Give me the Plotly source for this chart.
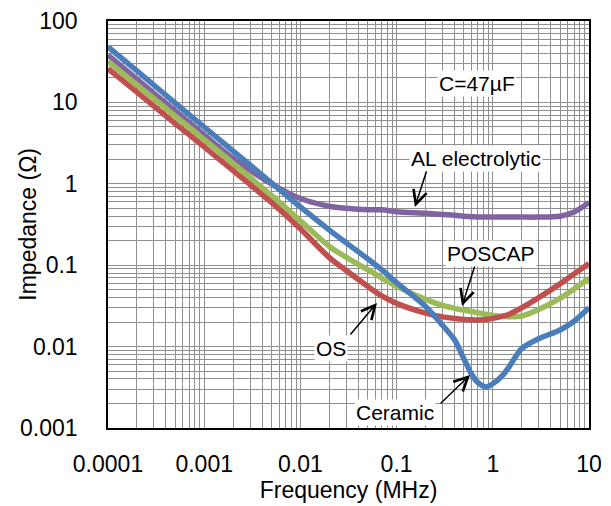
import numpy as np
import plotly.graph_objects as go

# ---- data ----
freq_mhz = [1e-4, 2e-4, 5e-4, 1e-3, 2e-3, 5e-3, 1e-2, 2e-2, 3e-2, 5e-2, 7e-2,
            0.1, 0.2, 0.3, 0.4, 0.5, 0.6, 0.7, 0.85, 1, 1.3, 1.5, 2, 3, 5, 7, 10]

al_electrolytic = [38, 19.3, 7.85, 3.98, 2.05, 1.0, 0.66, 0.53, 0.50, 0.48, 0.48,
                   0.455, 0.435, 0.42, 0.41, 0.40, 0.395, 0.39, 0.39, 0.39, 0.39, 0.39,
                   0.39, 0.39, 0.40, 0.45, 0.59]
poscap = [32, 16.4, 6.8, 3.5, 1.78, 0.72, 0.35, 0.17, 0.125, 0.088, 0.070,
          0.055, 0.038, 0.032, 0.0295, 0.028, 0.027, 0.026, 0.025, 0.0242, 0.0235, 0.0233,
          0.0238, 0.0286, 0.039, 0.051, 0.069]
os_cap = [26, 13.4, 5.5, 2.85, 1.45, 0.59, 0.28, 0.124, 0.086, 0.055, 0.042,
          0.034, 0.0258, 0.0232, 0.0222, 0.0216, 0.0213, 0.0212, 0.0215, 0.0222, 0.0238, 0.0252,
          0.030, 0.040, 0.059, 0.078, 0.105]
ceramic = [48, 24.4, 9.8, 4.97, 2.52, 1.03, 0.52, 0.27, 0.188, 0.120, 0.088,
           0.061, 0.031, 0.0183, 0.0121, 0.0071, 0.0046, 0.0036, 0.0032, 0.0035, 0.0046, 0.0058,
           0.0095, 0.0125, 0.0160, 0.0205, 0.030]

x_tick_vals = [1e-4, 1e-3, 1e-2, 1e-1, 1, 10]
x_tick_text = ["0.0001", "0.001", "0.01", "0.1", "1", "10"]
y_tick_vals = [1e-3, 1e-2, 1e-1, 1, 10, 100]
y_tick_text = ["0.001", "0.01", "0.1", "1", "10", "100"]

# labels: text, text position (freq, impedance), arrow tip (freq, impedance), arrow tail offset px
labels = [
    ("AL electrolytic", 0.668, 2.02, 0.155, 0.52, 12, -37),
    ("POSCAP", 0.957, 0.141, 0.479, 0.0316, 13, -41),
    ("OS", 0.0208, 0.0096, 0.0625, 0.0344, -27, 32),
    ("Ceramic", 0.0962, 0.00153, 0.58, 0.00448, -30, 29),
]
cap_note = ("C=47µF", 0.686, 17.3)

FONT = "Liberation Sans, Arial, sans-serif"

series = [
    ("AL electrolytic", al_electrolytic, "#8064A2"),
    ("POSCAP", poscap, "#9BBB59"),
    ("OS", os_cap, "#C0504D"),
    ("Ceramic", ceramic, "#4A7EBB"),
]

fig = go.Figure()
for name, vals, col in series:
    fig.add_trace(go.Scatter(x=freq_mhz, y=vals, mode="lines", name=name,
                             line=dict(color=col, width=5.5, shape="spline", smoothing=0.8)))

def minor_vals(decades):
    out = []
    for d in decades:
        for m in range(2, 10):
            out.append(m * 10.0 ** d)
    return out

grid_col = "#8f8f8f"
fig.update_xaxes(type="log", range=[-4, 1], tickvals=x_tick_vals, ticktext=x_tick_text,
                 showgrid=True, gridcolor=grid_col, gridwidth=1.2,
                 minor=dict(tickvals=minor_vals(range(-4, 1)), showgrid=True,
                            gridcolor=grid_col, gridwidth=1.2, ticks=""),
                 showline=True, linecolor="black", linewidth=1.5, mirror=True,
                 ticks="", ticklabelstandoff=15, automargin=False,
                 tickfont=dict(family=FONT, size=23, color="black"),
                 title=dict(text="Frequency (MHz)", standoff=2,
                            font=dict(family=FONT, size=23, color="black")),
                 zeroline=False)
fig.update_yaxes(type="log", range=[-3, 2], tickvals=y_tick_vals, ticktext=y_tick_text,
                 showgrid=True, gridcolor=grid_col, gridwidth=1.2,
                 minor=dict(tickvals=minor_vals(range(-3, 2)), showgrid=True,
                            gridcolor=grid_col, gridwidth=1.2, ticks=""),
                 showline=True, linecolor="black", linewidth=1.5, mirror=True,
                 ticks="", ticklabelstandoff=24, automargin=False,
                 tickfont=dict(family=FONT, size=23, color="black"),
                 zeroline=False)

annotations = []
for text, tx, ty, fx, fy, ax, ay in labels:
    # arrow only
    annotations.append(dict(x=np.log10(fx), y=np.log10(fy), xref="x", yref="y",
                            text="", showarrow=True, ax=ax, ay=ay, borderpad=0,
                            arrowhead=5, arrowsize=1.8, arrowwidth=1.5, arrowcolor="black",
                            font=dict(size=1)))
    # label text
    annotations.append(dict(x=np.log10(tx), y=np.log10(ty), xref="x", yref="y",
                            text=text, showarrow=False, bgcolor="white", borderpad=1,
                            font=dict(family=FONT, size=21, color="black")))
annotations.append(dict(x=np.log10(cap_note[1]), y=np.log10(cap_note[2]), xref="x", yref="y",
                        text=cap_note[0], showarrow=False, bgcolor="white", borderpad=1,
                        font=dict(family=FONT, size=21, color="black")))
annotations.append(dict(x=-0.168, y=0.5, xref="paper", yref="paper", text="Impedance (Ω)",
                        textangle=-90, showarrow=False, xanchor="center", yanchor="middle",
                        font=dict(family=FONT, size=23, color="black")))

# page body adds an 8px offset, so the figure is 8px smaller and margins shifted
fig.update_layout(width=603, height=498, margin=dict(l=100, r=22, t=13, b=78, autoexpand=False),
                  paper_bgcolor="white", plot_bgcolor="white", showlegend=False,
                  annotations=annotations)

fig.write_html("out.html")
